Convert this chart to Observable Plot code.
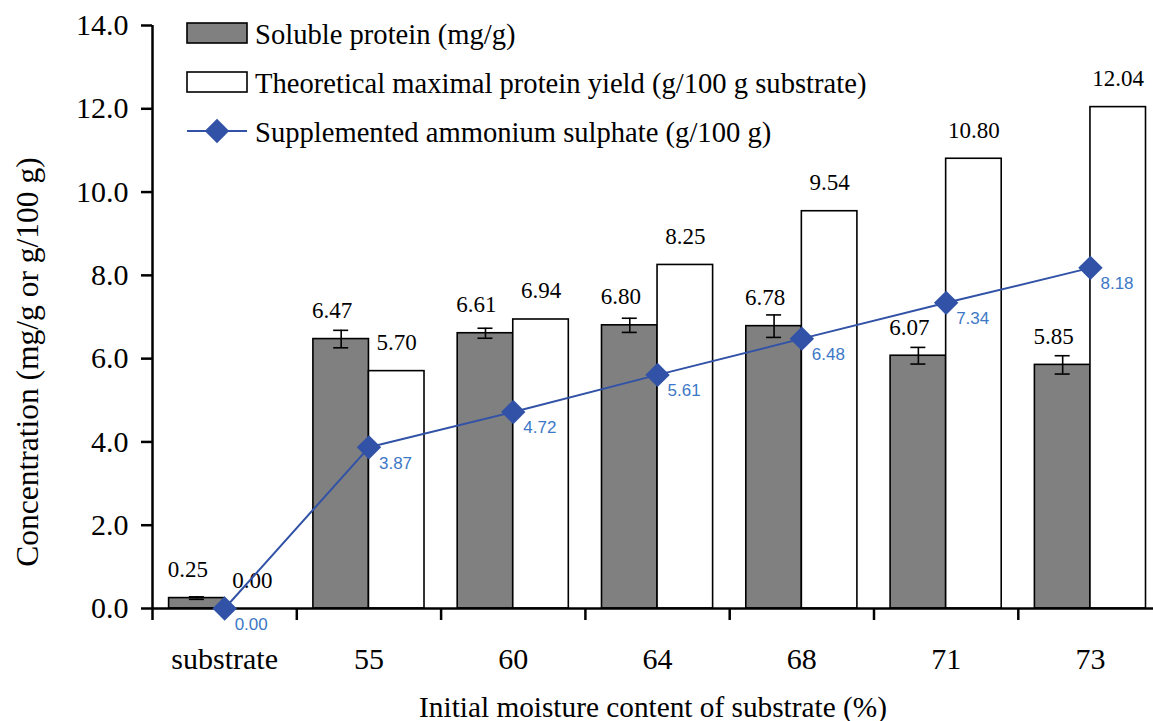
<!DOCTYPE html>
<html>
<head>
<meta charset="utf-8">
<script src="https://cdn.jsdelivr.net/npm/d3@7"></script>
<script src="https://cdn.jsdelivr.net/npm/@observablehq/plot@0.6"></script>
<style>
  html, body { margin: 0; padding: 0; background: #fff; overflow: hidden; }
</style>
</head>
<body>
<div id="chart"></div>
<script>
// Initial moisture content groups
const categories = ["substrate", "55", "60", "64", "68", "71", "73"];
// Soluble protein (mg/g) and its standard error
const solubleProtein = [0.25, 6.47, 6.61, 6.80, 6.78, 6.07, 5.85];
const solubleError = [0.03, 0.21, 0.12, 0.17, 0.27, 0.20, 0.22];
// Theoretical maximal protein yield (g/100 g substrate)
const maxProteinYield = [0.00, 5.70, 6.94, 8.25, 9.54, 10.80, 12.04];
// Supplemented ammonium sulphate (g/100 g)
const ammoniumSulphate = [0.00, 3.87, 4.72, 5.61, 6.48, 7.34, 8.18];
const yTicks = [0, 2, 4, 6, 8, 10, 12, 14];

const legendLabels = [
  "Soluble protein (mg/g)",
  "Theoretical maximal protein yield (g/100 g substrate)",
  "Supplemented ammonium sulphate (g/100 g)"
];

const rows = categories.map((category, i) => ({
  i,
  category,
  soluble: solubleProtein[i],
  err: solubleError[i],
  yieldMax: maxProteinYield[i],
  ammonium: ammoniumSulphate[i]
}));

const BAR = 0.385;         // bar width as a fraction of a category slot
const CAP = 0.052;         // half width of an error-bar cap
const SERIF = "'Liberation Serif', 'Times New Roman', serif";
const SANS = "'Liberation Sans', Arial, sans-serif";
const GRAY = "#808080";
const BLUE = "#3152A6";
const BLUE_TEXT = "#3D78C6";
const boundaries = d3.range(categories.length + 1).map(k => k - 0.5);

const chart = Plot.plot({
  width: 1153,
  height: 721,
  marginLeft: 152,
  marginRight: 0,
  marginTop: 25,
  marginBottom: 113,
  style: { fontFamily: SERIF, fontSize: "30px", background: "white", color: "black" },
  x: { type: "linear", domain: [-0.5, categories.length - 0.5], range: [152, 152 + 144.3 * categories.length] },
  y: { domain: [0, 14] },
  marks: [
    // soluble protein bars (left half of each slot)
    Plot.rectY(rows, {
      x1: d => d.i - BAR, x2: d => d.i, y: "soluble",
      fill: GRAY, stroke: "black", strokeWidth: 1.6
    }),
    // theoretical yield bars (right half)
    Plot.rectY(rows, {
      x1: d => d.i, x2: d => d.i + BAR, y: "yieldMax",
      fill: "white", stroke: "black", strokeWidth: 1.6
    }),
    // error bars
    Plot.ruleX(rows, {
      x: d => d.i - BAR / 2, y1: d => d.soluble - d.err, y2: d => d.soluble + d.err,
      stroke: "black", strokeWidth: 1.6
    }),
    Plot.ruleY(rows, {
      x1: d => d.i - BAR / 2 - CAP, x2: d => d.i - BAR / 2 + CAP, y: d => d.soluble + d.err,
      stroke: "black", strokeWidth: 1.6
    }),
    Plot.ruleY(rows, {
      x1: d => d.i - BAR / 2 - CAP, x2: d => d.i - BAR / 2 + CAP, y: d => d.soluble - d.err,
      stroke: "black", strokeWidth: 1.6
    }),
    // bar value labels
    Plot.text(rows, {
      x: d => d.i - BAR / 2, y: "soluble", text: d => d.soluble.toFixed(2),
      dx: -9, dy: -21, lineAnchor: "bottom", fontFamily: SERIF, fontSize: 23, fill: "black"
    }),
    Plot.text(rows, {
      x: d => d.i + BAR / 2, y: "yieldMax", text: d => d.yieldMax.toFixed(2),
      dy: -21, lineAnchor: "bottom", fontFamily: SERIF, fontSize: 23, fill: "black"
    }),
    // axes
    Plot.axisY({
      ticks: yTicks, tickFormat: d => d.toFixed(1), tickSize: 11, tickPadding: 13,
      strokeWidth: 2.5, fontFamily: SERIF, fontSize: 30, label: null
    }),
    Plot.axisX({
      ticks: boundaries, tickFormat: () => "", tickSize: 12, strokeWidth: 2.5, label: null
    }),
    Plot.axisX({
      ticks: d3.range(categories.length), tickFormat: i => categories[i],
      tickSize: 0, tickPadding: 39, fontFamily: SERIF, fontSize: 30, label: null
    }),
    Plot.ruleX([-0.5], { stroke: "black", strokeWidth: 2.5 }),
    Plot.ruleY([0], { stroke: "black", strokeWidth: 2.5 }),
    // ammonium sulphate line
    Plot.line(rows, { x: "i", y: "ammonium", stroke: BLUE, strokeWidth: 2 }),
    Plot.dot(rows, { x: "i", y: "ammonium", symbol: "diamond2", r: 11, fill: BLUE, stroke: "none" }),
    Plot.text(rows, {
      x: "i", y: "ammonium", text: d => d.ammonium.toFixed(2),
      dx: 10, dy: 16, textAnchor: "start", lineAnchor: "middle",
      fontFamily: SANS, fontSize: 17, fill: BLUE_TEXT
    }),
    // axis titles
    Plot.text(["Concentration (mg/g or g/100 g)"], {
      frameAnchor: "left", rotate: -90, dx: -125, dy: 45,
      textAnchor: "middle", lineAnchor: "middle", fontFamily: SERIF, fontSize: 31.5, fill: "black"
    }),
    Plot.text(["Initial moisture content of substrate (%)"], {
      frameAnchor: "bottom", dy: 108, lineAnchor: "bottom", fontFamily: SERIF, fontSize: 29.3, fill: "black"
    })
  ]
});

document.getElementById("chart").appendChild(chart);

// legend in the upper-left of the plotting area
const svg = d3.select(chart);
const legend = svg.append("g")
  .attr("font-family", SERIF)
  .attr("font-size", 28.6)
  .attr("text-anchor", "start");
legendLabels.forEach((label, k) => {
  const g = legend.append("g").attr("transform", `translate(187, ${23 + k * 49})`);
  if (k === 0 || k === 1) {
    g.append("rect")
      .attr("x", 0).attr("y", 0).attr("width", 60).attr("height", 20)
      .attr("fill", k === 0 ? GRAY : "white")
      .attr("stroke", "black").attr("stroke-width", 1.6);
  } else {
    g.append("line")
      .attr("x1", 0).attr("x2", 60).attr("y1", 10).attr("y2", 10)
      .attr("stroke", BLUE).attr("stroke-width", 2);
    g.append("path")
      .attr("d", d3.symbol(d3.symbolDiamond2, Math.PI * 11 * 11)())
      .attr("transform", "translate(30, 10)")
      .attr("fill", BLUE);
  }
  g.append("text")
    .attr("x", 68).attr("y", 21)
    .attr("text-anchor", "start")
    .attr("fill", "black")
    .text(label);
});
</script>
</body>
</html>
